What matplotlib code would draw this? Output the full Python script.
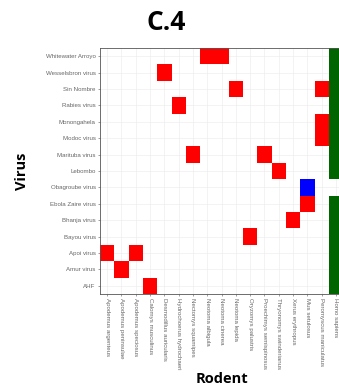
import numpy as np
import matplotlib.pyplot as plt
from matplotlib.colors import ListedColormap

viruses = ["Whitewater Arroyo", "Wesselsbron virus", "Sin Nombre", "Rabies virus",
           "Monongahela", "Modoc virus", "Marituba virus", "Lebombo",
           "Obagroube virus", "Ebola Zaire virus", "Bhanja virus", "Bayou virus",
           "Apoi virus", "Amur virus", "AHF"]
rodents = ["Apodemus argenteus", "Apodemus peninsulae", "Apodemus speciosus",
           "Calomys musculinus", "Desmodillus auricularis", "Hydrochoerus hydrochaeri",
           "Nectomys squamipes", "Neotoma albigula", "Neotoma cinerea", "Neotoma lepida",
           "Oryzomys palustris", "Proechimys semispinosus", "Thryonomys swinderianus",
           "Xerus erythropus", "Mus setulosus", "Peromyscus maniculatus", "Homo sapiens"]

# red = rodent host, blue = other link, green = human host
red_links = [("Whitewater Arroyo", "Neotoma albigula"), ("Whitewater Arroyo", "Neotoma cinerea"),
             ("Wesselsbron virus", "Desmodillus auricularis"),
             ("Sin Nombre", "Neotoma lepida"), ("Sin Nombre", "Peromyscus maniculatus"),
             ("Rabies virus", "Hydrochoerus hydrochaeri"),
             ("Monongahela", "Peromyscus maniculatus"), ("Modoc virus", "Peromyscus maniculatus"),
             ("Marituba virus", "Nectomys squamipes"), ("Marituba virus", "Proechimys semispinosus"),
             ("Lebombo", "Thryonomys swinderianus"),
             ("Ebola Zaire virus", "Mus setulosus"),
             ("Bhanja virus", "Xerus erythropus"),
             ("Bayou virus", "Oryzomys palustris"),
             ("Apoi virus", "Apodemus argenteus"), ("Apoi virus", "Apodemus speciosus"),
             ("Amur virus", "Apodemus peninsulae"),
             ("AHF", "Calomys musculinus")]
blue_links = [("Obagroube virus", "Mus setulosus")]
human_links = [v for v in viruses if v != "Obagroube virus"]

nv, nr = len(viruses), len(rodents)
mat = np.zeros((nv, nr))
for v, r in red_links:
    mat[nv - 1 - viruses.index(v), rodents.index(r)] = 1
for v, r in blue_links:
    mat[nv - 1 - viruses.index(v), rodents.index(r)] = 2
for v in human_links:
    mat[nv - 1 - viruses.index(v), rodents.index("Homo sapiens")] = 3
mat = np.ma.masked_equal(mat, 0)

cmap = ListedColormap(["#ff0000", "#0000ff", "#006400"])

fig = plt.figure(figsize=(3.39, 3.92), dpi=100)
ax = fig.add_axes([100 / 339, 0.25, 17 * 14.3 / 339, 246 / 392])

ax.set_axisbelow(True)
ax.grid(True, color="#ebebeb", lw=0.4)
ax.pcolormesh(np.arange(nr + 1) + 0.5, np.arange(nv + 1) + 0.5, mat,
              cmap=cmap, vmin=0.5, vmax=3.5)
ax.set_xlim(0.5, nr + 0.5)
ax.set_ylim(0.5, nv + 0.5)
ax.set_xticks(np.arange(1, nr + 1))
ax.set_xticklabels(rodents, rotation=-90, fontsize=4.4, color="#666666",
                   family="Liberation Sans")
ax.set_yticks(np.arange(1, nv + 1))
ax.set_yticklabels(viruses[::-1], fontsize=4.4, color="#666666", family="Liberation Sans")
ax.tick_params(length=1.5, width=0.4, color="#555555", pad=1.5)
for s in ax.spines.values():
    s.set_color("#555555")
    s.set_linewidth(0.6)

ax.set_xlabel("Rodent", fontsize=10.5, fontweight="bold", family="Open Sans", labelpad=2)
ax.set_ylabel("Virus", fontsize=10.5, fontweight="bold", family="Open Sans", labelpad=12)
fig.text(0.49, 1 - 22 / 392, "C.4", fontsize=19, fontweight="bold", family="Open Sans",
         ha="center", va="center")

fig.savefig("out.png", dpi=100)
